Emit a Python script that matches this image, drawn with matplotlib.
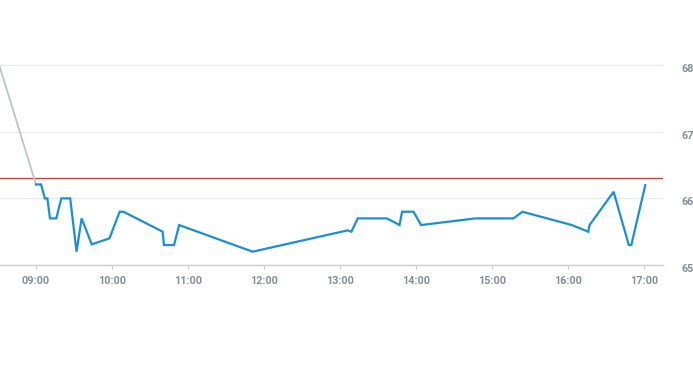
import matplotlib
matplotlib.use("Agg")
import matplotlib.pyplot as plt
import matplotlib.dates as mdates
import matplotlib.transforms as mtransforms
import pandas as pd

DAY = "2024-01-02"

# previous-close connector (grey) and intraday series (blue)
lead_times = ["08:31", "09:00"]
lead_values = [68.0, 66.21]

times = ["09:00", "09:04", "09:07", "09:09", "09:11", "09:16", "09:20", "09:27",
         "09:32", "09:36", "09:44", "09:58", "10:06", "10:09", "10:40", "10:41",
         "10:49", "10:53", "11:51", "13:06", "13:09", "13:14", "13:37", "13:47",
         "13:49", "13:58", "14:04", "14:47", "15:17", "15:24", "16:03", "16:16",
         "16:17", "16:36", "16:48", "16:50", "17:01"]
values = [66.21, 66.21, 66.0, 66.0, 65.7, 65.7, 66.0, 66.0,
          65.2, 65.7, 65.31, 65.4, 65.8, 65.8, 65.5, 65.3,
          65.3, 65.6, 65.2, 65.52, 65.5, 65.7, 65.7, 65.6,
          65.8, 65.8, 65.6, 65.7, 65.7, 65.8, 65.6, 65.5,
          65.6, 66.1, 65.3, 65.3, 66.2]

ref_level = 66.3
y_ticks = [65, 66, 67, 68]
hour_ticks = ["09:00", "10:00", "11:00", "12:00", "13:00", "14:00", "15:00", "16:00", "17:00"]

BLUE = "#1a8fd8"
GREY_LINE = "#b9c5cd"
RED = "#cc3a33"
GRID = "#e6e9ec"
AXIS = "#c8cfd6"
LABEL = "#858f99"


def ts(hhmm):
    return pd.Timestamp(f"{DAY} {hhmm}")


fig = plt.figure(figsize=(6.93, 3.65), dpi=100)
ax = fig.add_axes([0, 100 / 365, 663 / 693, 265 / 365])

ax.plot([ts(t) for t in lead_times], lead_values, color=GREY_LINE, lw=1.3, zorder=3)
ax.plot([ts(t) for t in times], values, color=BLUE, lw=1.6, zorder=4,
        solid_joinstyle="miter")
ax.axhline(ref_level, color=RED, lw=0.9, zorder=2)

ax.set_xlim(pd.Timestamp(f"{DAY} 08:31:35"), pd.Timestamp(f"{DAY} 17:15"))
ax.set_ylim(65, 68.98)

ax.set_xticks([ts(t) for t in hour_ticks])
ax.xaxis.set_major_formatter(mdates.DateFormatter("%H:%M"))
ax.set_yticks(y_ticks)
ax.yaxis.tick_right()

ax.grid(axis="y", color=GRID, lw=0.9, zorder=0)
for s in ["top", "left", "right"]:
    ax.spines[s].set_visible(False)
ax.spines["bottom"].set_color(AXIS)
ax.spines["bottom"].set_linewidth(1.0)

ax.tick_params(axis="x", length=3, width=0.8, color=AXIS, pad=5,
               labelsize=7.8, labelcolor=LABEL)
ax.tick_params(axis="y", length=0, pad=13, labelsize=7.8, labelcolor=LABEL)
shift = mtransforms.ScaledTranslation(0, -3 / 100, fig.dpi_scale_trans)
for lab in ax.get_yticklabels():
    lab.set_transform(lab.get_transform() + shift)
for lab in ax.get_xticklabels() + ax.get_yticklabels():
    lab.set_fontweight("bold")
    lab.set_family("Roboto")

fig.savefig("out.png", dpi=100)
